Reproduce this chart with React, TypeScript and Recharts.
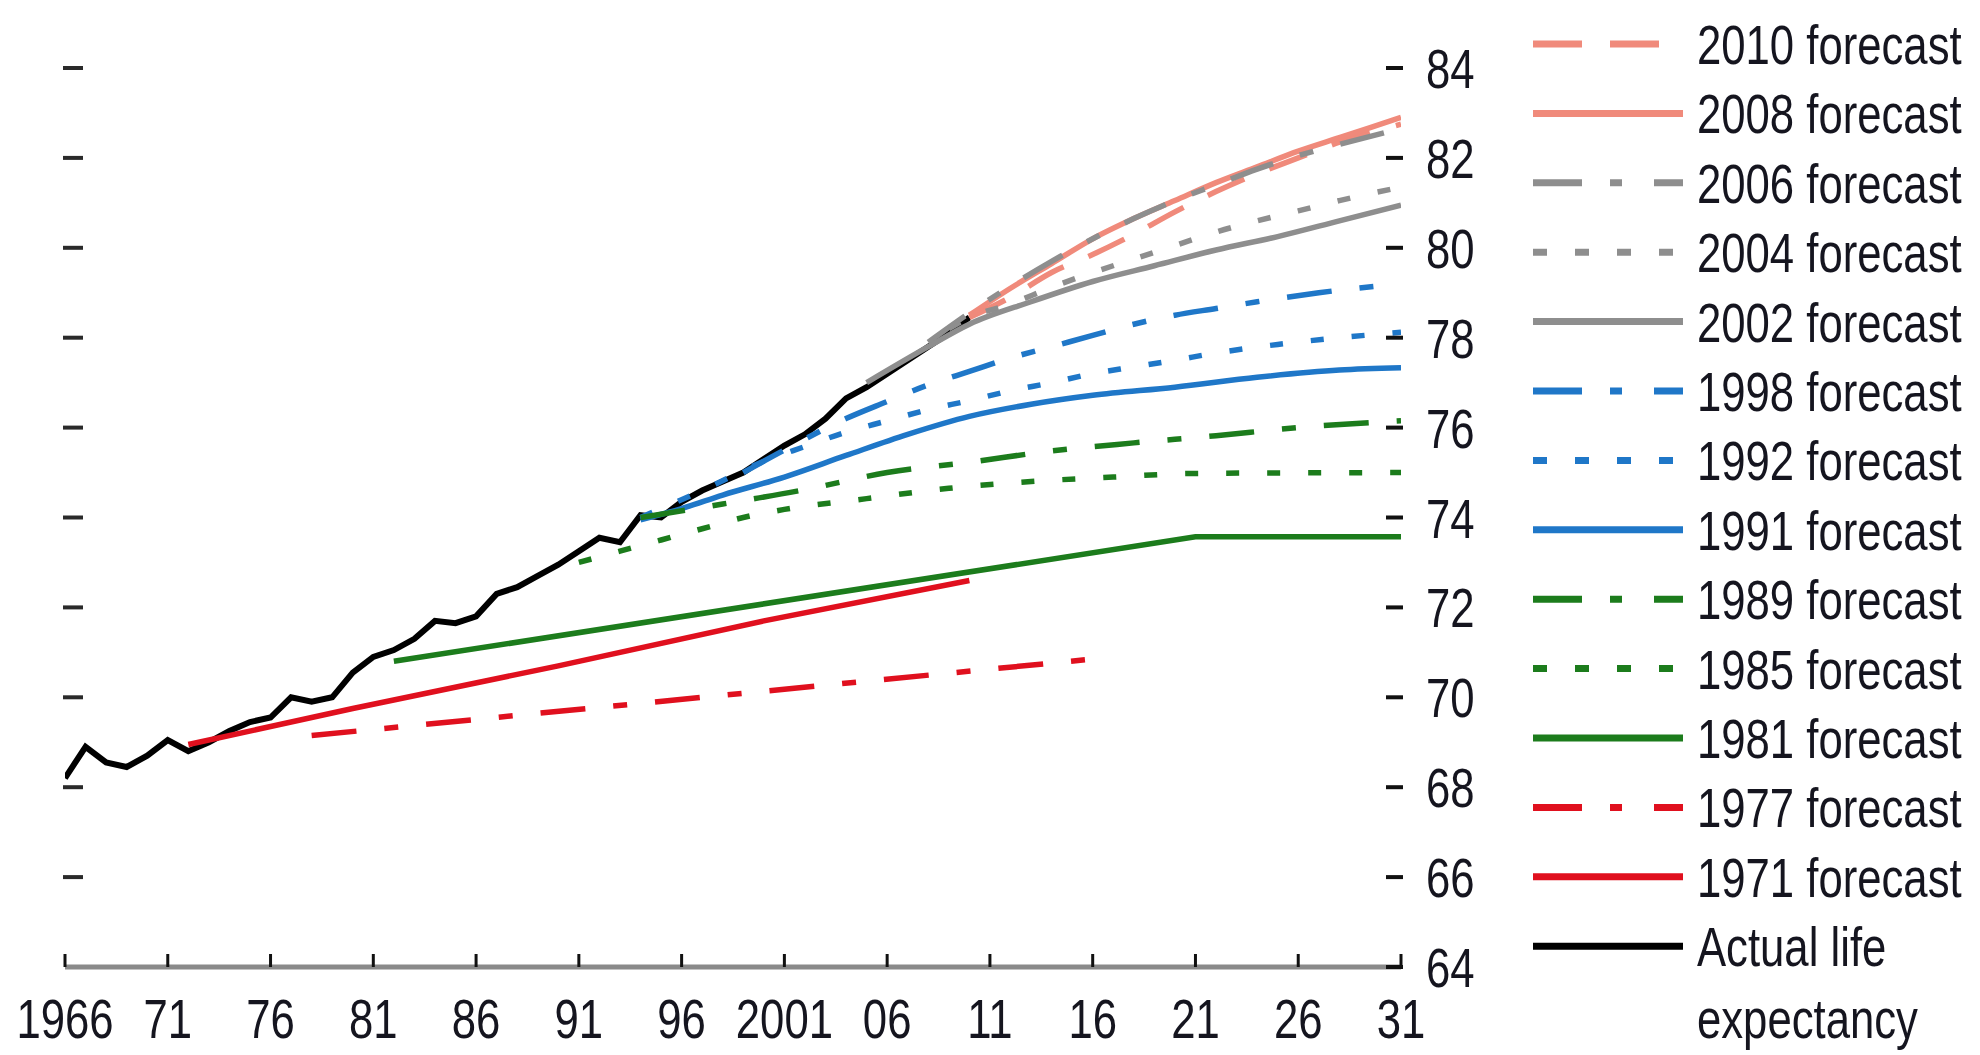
import React from "react";
import { LineChart, Line, XAxis, YAxis } from "recharts";

const W = 1980;
const H = 1055;

const X_TICKS = [1966, 1971, 1976, 1981, 1986, 1991, 1996, 2001, 2006, 2011, 2016, 2021, 2026, 2031];
const X_TICK_LABELS = ["1966", "71", "76", "81", "86", "91", "96", "2001", "06", "11", "16", "21", "26", "31"];
const Y_TICKS = [64, 66, 68, 70, 72, 74, 76, 78, 80, 82, 84];
const LEFT_TICKS = [66, 68, 70, 72, 74, 76, 78, 80, 82, 84];

// actual life expectancy
const ACTUAL_YEARS = [
  1966, 1967, 1968, 1969, 1970, 1971, 1972, 1973, 1974, 1975, 1976, 1977, 1978, 1979, 1980,
  1981, 1982, 1983, 1984, 1985, 1986, 1987, 1988, 1989, 1990, 1991, 1992, 1993, 1994, 1995,
  1996, 1997, 1998, 1999, 2000, 2001, 2002, 2003, 2004, 2005, 2006, 2007, 2008, 2009, 2010,
];
const ACTUAL_VALUES = [
  68.2, 68.9, 68.55, 68.45, 68.7, 69.05, 68.8, 69.0, 69.25, 69.45, 69.55, 70.0, 69.9, 70.0, 70.55,
  70.9, 71.05, 71.3, 71.7, 71.65, 71.8, 72.3, 72.45, 72.7, 72.95, 73.25, 73.55, 73.45, 74.05, 74.0,
  74.35, 74.6, 74.8, 75.0, 75.3, 75.6, 75.85, 76.2, 76.65, 76.9, 77.2, 77.5, 77.8, 78.1, 78.45,
];

// forecasts
const F1971_YEARS = [1972, 1980, 1990, 2000, 2010];
const F1971_VALUES = [68.95, 69.75, 70.7, 71.7, 72.6];

const F1977_YEARS = [1978, 2016];
const F1977_VALUES = [69.15, 70.85];

const F1981_YEARS = [1982, 2021, 2031];
const F1981_VALUES = [70.8, 73.57, 73.57];

const F1985_YEARS = [1991, 1993, 1995, 1997, 1999, 2001, 2005, 2009, 2013, 2017, 2021, 2031];
const F1985_VALUES = [73.0, 73.25, 73.5, 73.75, 74.0, 74.18, 74.42, 74.65, 74.8, 74.9, 74.98, 75.0];

const F1989_YEARS = [1994, 1998, 2002, 2006, 2010, 2014, 2018, 2022, 2026, 2031];
const F1989_VALUES = [74.0, 74.3, 74.62, 75.0, 75.23, 75.48, 75.66, 75.82, 76.0, 76.15];

const F1991_YEARS = [1994, 1996, 1998, 2001, 2004, 2007, 2010, 2013, 2016, 2020, 2024, 2028, 2031];
const F1991_VALUES = [73.95, 74.2, 74.5, 74.9, 75.38, 75.85, 76.25, 76.52, 76.72, 76.9, 77.12, 77.28, 77.33];

const F1992_YEARS = [1994, 1997, 2000, 2002, 2004, 2006, 2008, 2010, 2012, 2014, 2016, 2018, 2020, 2022, 2025, 2028, 2031];
const F1992_VALUES = [74.0, 74.6, 75.25, 75.58, 75.9, 76.15, 76.4, 76.6, 76.82, 77.0, 77.2, 77.35, 77.5, 77.66, 77.85, 78.0, 78.12];

const F1998_YEARS = [1999, 2001, 2004, 2006, 2008, 2010, 2012, 2014, 2016, 2018, 2020, 2022, 2024, 2027, 2031];
const F1998_VALUES = [75.0, 75.5, 76.2, 76.58, 76.95, 77.25, 77.55, 77.8, 78.05, 78.3, 78.5, 78.65, 78.8, 79.0, 79.2];

const F2002_YEARS = [2005, 2008, 2010, 2013, 2016, 2019, 2022, 2025, 2028, 2031];
const F2002_VALUES = [77.0, 77.8, 78.3, 78.8, 79.25, 79.6, 79.95, 80.25, 80.6, 80.95];

const F2004_YEARS = [2009, 2010, 2012, 2014, 2016, 2018, 2020, 2022, 2024, 2026, 2028, 2031];
const F2004_VALUES = [78.2, 78.45, 78.75, 79.12, 79.45, 79.75, 80.05, 80.35, 80.6, 80.82, 81.05, 81.35];

const F2006_YEARS = [2008, 2010, 2012, 2014, 2016, 2018, 2020, 2022, 2024, 2026, 2028, 2031];
const F2006_VALUES = [77.9, 78.55, 79.15, 79.7, 80.2, 80.65, 81.05, 81.4, 81.75, 82.05, 82.3, 82.65];

const F2008_YEARS = [2010, 2012, 2014, 2016, 2018, 2020, 2022, 2024, 2026, 2028, 2031];
const F2008_VALUES = [78.5, 79.1, 79.65, 80.2, 80.65, 81.05, 81.45, 81.8, 82.15, 82.45, 82.9];

const F2010_YEARS = [2010, 2012, 2014, 2016, 2018, 2020, 2022, 2024, 2026, 2028, 2031];
const F2010_VALUES = [78.45, 78.9, 79.45, 79.85, 80.3, 80.8, 81.25, 81.65, 82.0, 82.35, 82.75];

const SALMON = "#f08a7b";
const GRAY = "#8e8e8e";
const BLUE = "#1f77c8";
const GREEN = "#1c7c1c";
const RED = "#e0101e";

type Style = "solid" | "dashed" | "dashdot" | "dotted";

const CHART_DASH: Record<Style, string | undefined> = {
  solid: undefined,
  dashed: "40 27",
  dashdot: "45 28 14 28",
  dotted: "13 28",
};
const LEGEND_DASH: Record<Style, string | undefined> = {
  solid: undefined,
  dashed: "49 28",
  dashdot: "49 28 12 32",
  dotted: "14 28",
};

// legend order (top to bottom); straight = drawn with straight segments
const SERIES = [
  { key: "f2010", label: "2010 forecast", color: SALMON, style: "dashed" as Style, straight: false, years: F2010_YEARS, values: F2010_VALUES },
  { key: "f2008", label: "2008 forecast", color: SALMON, style: "solid" as Style, straight: false, years: F2008_YEARS, values: F2008_VALUES },
  { key: "f2006", label: "2006 forecast", color: GRAY, style: "dashdot" as Style, straight: false, years: F2006_YEARS, values: F2006_VALUES },
  { key: "f2004", label: "2004 forecast", color: GRAY, style: "dotted" as Style, straight: false, years: F2004_YEARS, values: F2004_VALUES },
  { key: "f2002", label: "2002 forecast", color: GRAY, style: "solid" as Style, straight: false, years: F2002_YEARS, values: F2002_VALUES },
  { key: "f1998", label: "1998 forecast", color: BLUE, style: "dashdot" as Style, straight: false, years: F1998_YEARS, values: F1998_VALUES },
  { key: "f1992", label: "1992 forecast", color: BLUE, style: "dotted" as Style, straight: false, years: F1992_YEARS, values: F1992_VALUES },
  { key: "f1991", label: "1991 forecast", color: BLUE, style: "solid" as Style, straight: false, years: F1991_YEARS, values: F1991_VALUES },
  { key: "f1989", label: "1989 forecast", color: GREEN, style: "dashdot" as Style, straight: false, years: F1989_YEARS, values: F1989_VALUES },
  { key: "f1985", label: "1985 forecast", color: GREEN, style: "dotted" as Style, straight: false, years: F1985_YEARS, values: F1985_VALUES },
  { key: "f1981", label: "1981 forecast", color: GREEN, style: "solid" as Style, straight: true, years: F1981_YEARS, values: F1981_VALUES },
  { key: "f1977", label: "1977 forecast", color: RED, style: "dashdot" as Style, straight: true, years: F1977_YEARS, values: F1977_VALUES },
  { key: "f1971", label: "1971 forecast", color: RED, style: "solid" as Style, straight: true, years: F1971_YEARS, values: F1971_VALUES },
  { key: "actual", label: "Actual life|expectancy", color: "#000", style: "solid" as Style, straight: true, years: ACTUAL_YEARS, values: ACTUAL_VALUES },
];

// one row per year, null where a series has no value
const allYears = Array.from(new Set(SERIES.flatMap((s) => s.years))).sort((a, b) => a - b);
const rows = allYears.map((year) => {
  const row: Record<string, number | null> = { year };
  for (const s of SERIES) {
    const i = s.years.indexOf(year);
    row[s.key] = i >= 0 ? s.values[i] : null;
  }
  return row;
});

const FONT = "'Liberation Sans', Arial, sans-serif";
const TEXT = "#15151f";
const SQUEEZE = 0.78; // condensed look

function Label({ x, y, text, anchor = "start" }: { x: number; y: number; text: string; anchor?: "start" | "middle" }) {
  return (
    <text transform={`translate(${x},${y}) scale(${SQUEEZE},1)`} textAnchor={anchor}
      fontFamily={FONT} fontSize={56} fill={TEXT}>
      {text}
    </text>
  );
}

function XTick(props: any) {
  const { x, y, payload } = props;
  const label = X_TICK_LABELS[X_TICKS.indexOf(payload.value)] ?? String(payload.value);
  return (
    <g>
      <line x1={x} x2={x} y1={y - 13} y2={y} stroke="#111" strokeWidth={3} />
      <Label x={x} y={y + 71} text={label} anchor="middle" />
    </g>
  );
}

function RightTick(props: any) {
  const { x, y, payload } = props;
  return (
    <g>
      <line x1={x - 15} x2={x + 2} y1={y} y2={y} stroke="#111" strokeWidth={4} />
      <Label x={x + 25} y={y + 20} text={String(payload.value)} />
    </g>
  );
}

function LeftTick(props: any) {
  const { x, y } = props;
  return <line x1={x - 2} x2={x + 18} y1={y} y2={y} stroke="#2a2a2a" strokeWidth={4} />;
}

function ChartLegend() {
  const top = 44;
  const step = 69.4;
  return (
    <svg width={W} height={H} style={{ position: "absolute", left: 0, top: 0, pointerEvents: "none" }}>
      {SERIES.map((s, i) => {
        const cy = top + i * step;
        const lines = s.label.split("|");
        return (
          <g key={s.key}>
            <line x1={1533} x2={1683} y1={cy} y2={cy} stroke={s.color} strokeWidth={7}
              strokeDasharray={LEGEND_DASH[s.style]} />
            {lines.map((t, j) => (
              <Label key={t} x={1697} y={cy + 20 + j * 72} text={t} />
            ))}
          </g>
        );
      })}
    </svg>
  );
}

// drawn order: actual first, then forecasts
const DRAW_ORDER = [SERIES[13], ...SERIES.slice(0, 13)];

export default function App() {
  return (
    <div style={{ position: "absolute", left: 0, top: 0, width: W, height: H, background: "#fff" }}>
      <LineChart width={W} height={H} data={rows} margin={{ top: 68, right: 0, bottom: 0, left: 64 }}>
        <XAxis
          dataKey="year"
          type="number"
          domain={[1966, 2031]}
          ticks={X_TICKS}
          interval={0}
          height={88}
          tickSize={0}
          tickMargin={0}
          tickLine={false}
          axisLine={{ stroke: "#8a8a8a", strokeWidth: 5 }}
          tick={<XTick />}
          allowDataOverflow
        />
        <YAxis
          yAxisId="left"
          orientation="left"
          width={1}
          domain={[64, 84]}
          ticks={LEFT_TICKS}
          interval={0}
          tickSize={0}
          tickMargin={0}
          tickLine={false}
          axisLine={false}
          tick={<LeftTick />}
          allowDataOverflow
        />
        <YAxis
          yAxisId="right"
          orientation="right"
          width={579}
          domain={[64, 84]}
          ticks={Y_TICKS}
          interval={0}
          tickSize={0}
          tickMargin={0}
          tickLine={false}
          axisLine={false}
          tick={<RightTick />}
          allowDataOverflow
        />
        {DRAW_ORDER.map((s) => (
          <Line
            key={s.key}
            yAxisId="right"
            dataKey={s.key}
            type={s.straight ? "linear" : "monotone"}
            stroke={s.color}
            strokeWidth={s.key === "actual" ? 6 : 5.5}
            strokeDasharray={CHART_DASH[s.style]}
            dot={false}
            activeDot={false}
            connectNulls
            isAnimationActive={false}
          />
        ))}
      </LineChart>
      <ChartLegend />
    </div>
  );
}
